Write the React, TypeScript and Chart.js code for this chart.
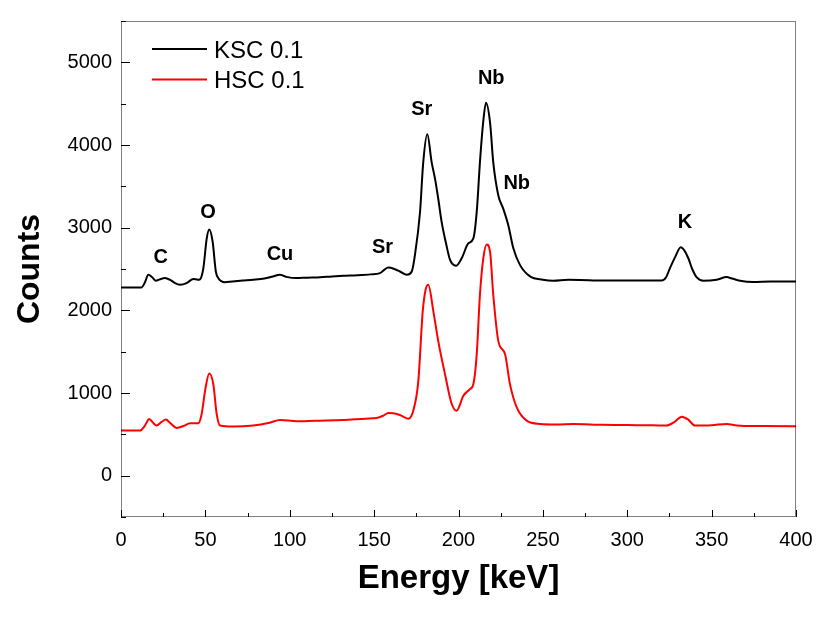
import React, { useEffect, useRef } from "react";
import { Chart, registerables } from "chart.js";

Chart.register(...registerables);

// ---- data ----
const kscEnergy = [0, 12, 14, 16.2, 18.5, 20.7, 23, 26, 29, 32, 35, 38.9, 42.9, 45.5, 46.8, 48.8, 50.8, 52.3, 54.3, 56.2, 57.7, 61.6, 66, 72, 78.4, 85, 90, 94.2, 98, 104, 110, 118, 125, 131.7, 140, 148, 153.5, 156, 158.4, 162, 165.3, 169.3, 172.3, 174.2, 177.2, 179.1, 181.5, 184.1, 186.1, 188, 190, 192.5, 195, 198.5, 201.9, 205.8, 208.8, 210.8, 212.7, 214.5, 216.3, 218.7, 220.6, 223.6, 226.5, 229.5, 232.5, 236.4, 242.4, 250, 256.2, 265, 272, 285, 300, 310, 320.4, 323, 325.3, 328.5, 331.7, 334, 336.2, 338.5, 341.2, 345.1, 353, 358.9, 362, 366.8, 374.7, 385, 392, 400];
const kscCounts = [2275, 2275, 2330, 2430, 2400, 2358, 2375, 2390, 2370, 2330, 2310, 2330, 2380, 2370, 2375, 2509, 2870, 2978, 2830, 2470, 2389, 2341, 2350, 2360, 2370, 2385, 2410, 2430, 2405, 2390, 2395, 2400, 2410, 2418, 2425, 2435, 2450, 2490, 2518, 2500, 2470, 2430, 2470, 2670, 3190, 3790, 4130, 3790, 3590, 3350, 3070, 2820, 2610, 2540, 2630, 2810, 2870, 3190, 3790, 4250, 4510, 4270, 3790, 3390, 3230, 3030, 2750, 2550, 2410, 2370, 2358, 2370, 2368, 2360, 2362, 2360, 2360, 2400, 2510, 2650, 2763, 2720, 2630, 2500, 2398, 2358, 2370, 2402, 2385, 2358, 2342, 2350, 2348, 2350];

const hscEnergy = [0, 11.3, 14, 16.8, 19, 21.1, 24, 26.7, 29, 33, 37, 40.9, 45.8, 47.8, 50, 52.3, 54.7, 56.7, 58.7, 66.5, 78.4, 88, 94.2, 104.1, 115, 131.7, 145, 151.5, 155.4, 158.4, 161.4, 165.3, 170.2, 173.2, 176.2, 178.8, 180.5, 182.1, 185.1, 188, 192, 196, 198.9, 202.9, 206.8, 208.8, 210.8, 212.7, 214.7, 216.7, 218.7, 220.6, 223.6, 227.6, 230.5, 234.5, 240.4, 248.3, 258, 268, 285, 300, 315, 323.4, 328, 332.3, 336, 340.1, 350, 358.9, 365, 380, 398.4, 400];
const hscCounts = [545, 545, 600, 686, 640, 606, 650, 678, 640, 578, 600, 634, 634, 746, 1050, 1235, 1107, 746, 606, 594, 606, 640, 674, 658, 665, 674, 690, 698, 726, 758, 754, 734, 690, 786, 1147, 1988, 2250, 2309, 1988, 1628, 1227, 867, 786, 967, 1047, 1107, 1468, 2189, 2629, 2797, 2709, 2189, 1628, 1468, 1107, 826, 666, 626, 620, 626, 615, 612, 610, 606, 650, 714, 680, 606, 610, 626, 608, 600, 598, 598];

const seriesLabels = ["KSC 0.1", "HSC 0.1"];
const seriesColors = ["#000000", "#ff0000"];

const xTickValues = [0, 50, 100, 150, 200, 250, 300, 350, 400];
const yTickValues = [0, 1000, 2000, 3000, 4000, 5000];

const peakLabels = ["C", "O", "Cu", "Sr", "Sr", "Nb", "Nb", "K"];
const peakEnergy = [23.6, 51.6, 94.2, 155, 178.2, 219.4, 234.5, 334.2];
const peakCounts = [2650, 3191, 2686, 2770, 4444, 4818, 3552, 3071];

const overlayPlugin = {
  id: "overlay",
  afterDatasetsDraw(chart: any) {
    const { ctx, chartArea: a, scales } = chart;
    const xs = scales.x;
    const ys = scales.y;
    ctx.save();
    // frame (dotted)
    ctx.strokeStyle = "#000";
    ctx.lineWidth = 1;
    ctx.setLineDash([1, 1]);
    ctx.strokeRect(a.left + 0.5, a.top + 0.5, a.right - a.left - 1, a.bottom - a.top - 1);
    ctx.setLineDash([]);
    // ticks inward
    ctx.beginPath();
    const xStep = xTickValues[1] - xTickValues[0];
    for (let i = 0; i < xTickValues.length; i++) {
      const v = xTickValues[i];
      const px = Math.round(xs.getPixelForValue(v)) + 0.5;
      ctx.moveTo(px, a.bottom);
      ctx.lineTo(px, a.bottom - 7);
      if (i < xTickValues.length - 1) {
        const pm = Math.round(xs.getPixelForValue(v + xStep / 2)) + 0.5;
        ctx.moveTo(pm, a.bottom);
        ctx.lineTo(pm, a.bottom - 4);
      }
    }
    const yStep = yTickValues[1] - yTickValues[0];
    const yMinor = [yTickValues[0] - yStep / 2, ...yTickValues.map((v) => v + yStep / 2)];
    for (const v of yTickValues) {
      const py = Math.round(ys.getPixelForValue(v)) + 0.5;
      ctx.moveTo(a.left, py);
      ctx.lineTo(a.left + 9, py);
    }
    for (const v of yMinor) {
      const py = Math.round(ys.getPixelForValue(v)) + 0.5;
      ctx.moveTo(a.left, py);
      ctx.lineTo(a.left + 5, py);
    }
    ctx.stroke();

    // legend
    ctx.font = "24px 'Liberation Sans', Arial, sans-serif";
    ctx.textBaseline = "middle";
    ctx.textAlign = "left";
    chart.data.datasets.forEach((ds: any, i: number) => {
      const y = 49 + i * 30.5;
      ctx.strokeStyle = ds.borderColor;
      ctx.lineWidth = 2;
      ctx.beginPath();
      ctx.moveTo(152, y);
      ctx.lineTo(207, y);
      ctx.stroke();
      ctx.fillStyle = "#000";
      ctx.fillText(ds.label, 214, y + 2);
    });

    // peak labels
    ctx.font = "bold 20px 'Liberation Sans', Arial, sans-serif";
    ctx.textAlign = "center";
    ctx.fillStyle = "#000";
    for (let i = 0; i < peakLabels.length; i++) {
      ctx.fillText(peakLabels[i], xs.getPixelForValue(peakEnergy[i]), ys.getPixelForValue(peakCounts[i]) + 1);
    }
    ctx.restore();
  },
};

export default function App() {
  const ref = useRef<HTMLCanvasElement>(null);
  useEffect(() => {
    document.body.style.margin = "0";
    const toPts = (xs: number[], ys: number[]) => xs.map((x, i) => ({ x, y: ys[i] }));
    const chart = new Chart(ref.current as HTMLCanvasElement, {
      type: "line",
      data: {
        datasets: [
          {
            label: seriesLabels[0],
            data: toPts(kscEnergy, kscCounts),
            borderColor: seriesColors[0],
            borderWidth: 2,
            pointRadius: 0,
            cubicInterpolationMode: "monotone",
            fill: false,
          },
          {
            label: seriesLabels[1],
            data: toPts(hscEnergy, hscCounts),
            borderColor: seriesColors[1],
            borderWidth: 2,
            pointRadius: 0,
            cubicInterpolationMode: "monotone",
            fill: false,
          },
        ],
      },
      options: {
        animation: false,
        responsive: false,
        devicePixelRatio: 1,
        layout: { padding: { top: 18, right: 31, left: 0, bottom: 0 } },
        plugins: { legend: { display: false }, tooltip: { enabled: false } },
        scales: {
          x: {
            type: "linear",
            min: 0,
            max: 400,
            afterBuildTicks: (s: any) => {
              s.ticks = xTickValues.map((v) => ({ value: v }));
            },
            afterFit: (s: any) => {
              s.height = 105;
            },
            grid: { display: false, drawTicks: false },
            border: { display: false },
            ticks: {
              padding: 11,
              color: "#000",
              maxRotation: 0,
              callback: (v: any) => String(v),
              font: { family: "'Liberation Sans', Arial, sans-serif", size: 20 },
            },
            title: {
              display: true,
              text: "Energy [keV]",
              color: "#000",
              padding: { top: 0, bottom: 23 },
              font: { family: "'Liberation Sans', Arial, sans-serif", size: 33, weight: "bold" },
            },
          },
          y: {
            type: "linear",
            min: -500,
            max: 5500,
            afterBuildTicks: (s: any) => {
              s.ticks = yTickValues.map((v) => ({ value: v }));
            },
            afterFit: (s: any) => {
              s.width = 121;
            },
            grid: { display: false, drawTicks: false },
            border: { display: false },
            ticks: {
              padding: 9,
              color: "#000",
              callback: (v: any) => String(v),
              font: { family: "'Liberation Sans', Arial, sans-serif", size: 20 },
            },
            title: {
              display: true,
              text: "Counts",
              color: "#000",
              padding: { top: 11, bottom: 0 },
              font: { family: "'Liberation Sans', Arial, sans-serif", size: 32, weight: "bold" },
            },
          },
        },
      },
      plugins: [overlayPlugin],
    });
    return () => chart.destroy();
  }, []);
  return (
    <div style={{ width: 827, height: 622, background: "#fff" }}>
      <canvas ref={ref} width={827} height={622} style={{ display: "block" }} />
    </div>
  );
}
